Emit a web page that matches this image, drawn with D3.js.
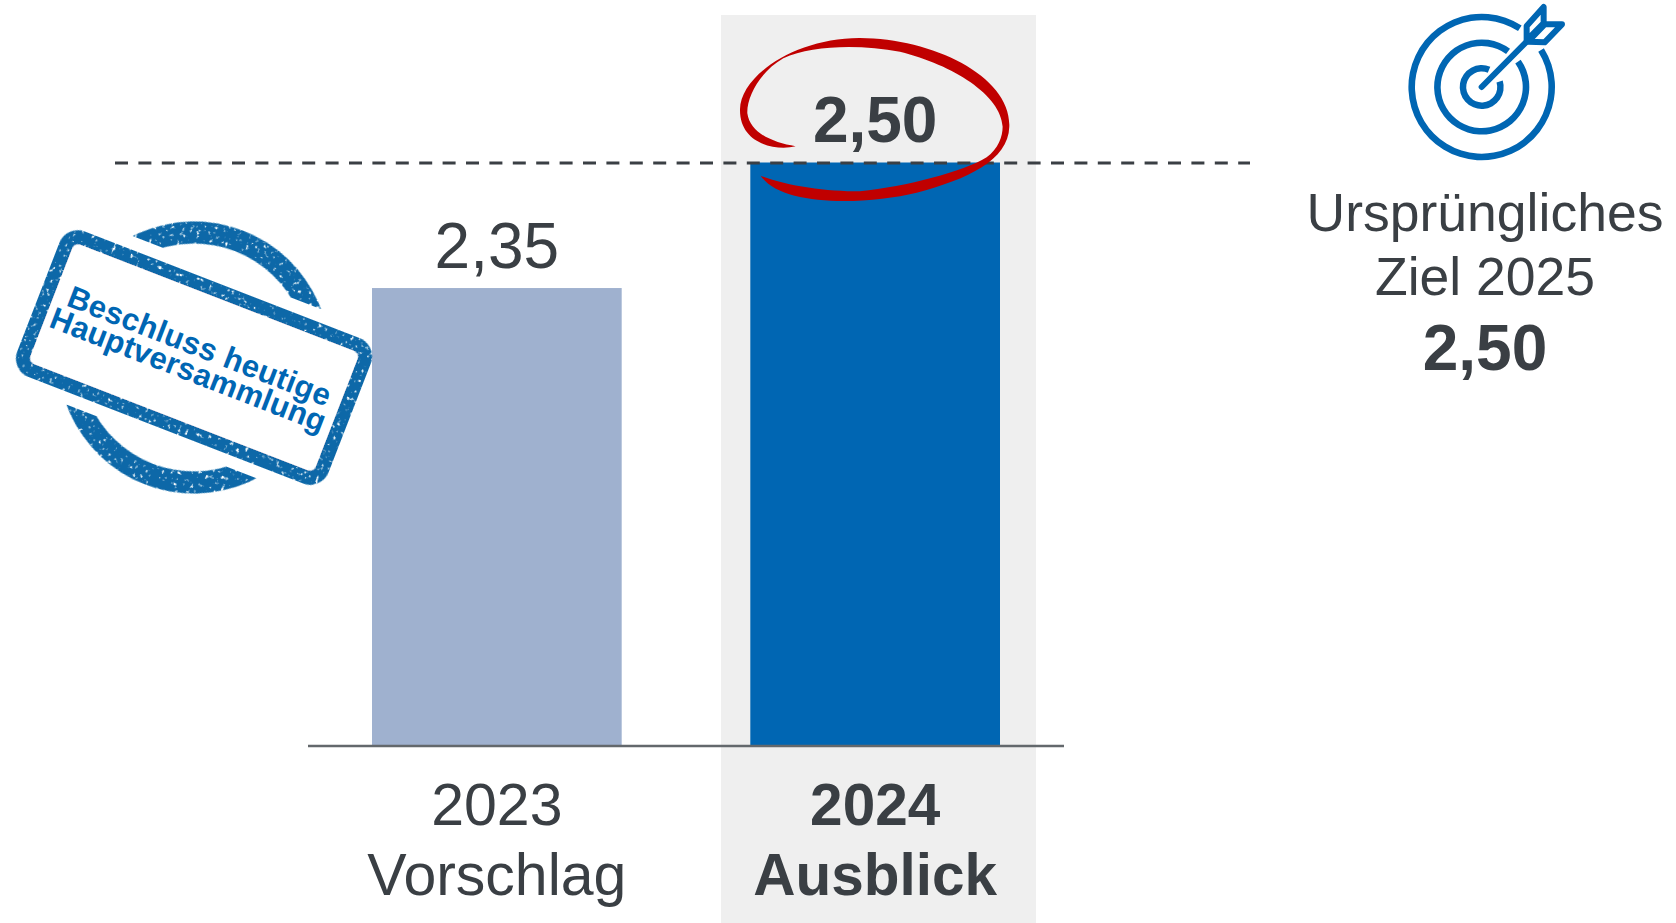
<!DOCTYPE html>
<html><head><meta charset="utf-8">
<script src="https://cdn.jsdelivr.net/npm/d3@7"></script>
<style>html,body{margin:0;padding:0;background:#fff}svg{display:block}text{font-family:"Liberation Sans",Arial,sans-serif}</style>
</head><body><svg id="c" width="1676" height="923"></svg>
<script>
const categories = ["2023", "2024"];
const subLabels = ["Vorschlag", "Ausblick"];
const values = [2.35, 2.50];
const valueLabels = ["2,35", "2,50"];
const barColors = ["#9fb1cf", "#0066b3"];
const target = 2.50;
const targetLines = ["Ursprüngliches", "Ziel 2025"];
const targetLabel = "2,50";
const stampLines = ["Beschluss heutige", "Hauptversammlung"];

const INK = "#3a3f44", BLUE = "#0066b3", RED = "#c00000", STAMP = "#0a68a8";
const svg = d3.select("#c");
const x = d3.scaleBand().domain(categories).range([372, 1000]).paddingInner(0.34);
const y = d3.scaleLinear().domain([1.804, 2.5]).range([745, 162.5]);

// highlight band
svg.append("rect").attr("x", 721).attr("y", 15).attr("width", 315).attr("height", 908).attr("fill", "#efefef");

// bars
svg.selectAll("rect.bar").data(categories).join("rect").attr("class", "bar")
  .attr("x", d => x(d)).attr("width", x.bandwidth())
  .attr("y", (d, i) => y(values[i])).attr("height", (d, i) => y.range()[0] - y(values[i]))
  .attr("fill", (d, i) => barColors[i]);

// value labels
svg.selectAll("text.val").data(categories).join("text").attr("class", "val")
  .attr("x", d => x(d) + x.bandwidth() / 2).attr("y", (d, i) => i ? 141.5 : 267.5)
  .attr("text-anchor", "middle").attr("font-size", 64)
  .attr("font-weight", (d, i) => i ? 700 : 400).attr("fill", INK)
  .text((d, i) => valueLabels[i]);

// axis
const ax = svg.append("g").attr("transform", "translate(0,745.5)").call(d3.axisBottom(x).tickSize(0).tickPadding(0));
ax.select(".domain").remove();
ax.selectAll(".tick text").each(function (d, i) {
  const t = d3.select(this).attr("y", null).attr("dy", null).text(null)
    .attr("font-size", i ? 58.5 : 59).attr("fill", INK).attr("font-weight", i ? 700 : 400).attr("font-family", null).attr("text-anchor", "middle");
  t.append("tspan").attr("x", 0).attr("y", 79).text(categories[i]);
  t.append("tspan").attr("x", 0).attr("y", 149).text(subLabels[i]);
});
svg.append("line").attr("x1", 308).attr("x2", 1064).attr("y1", 746).attr("y2", 746).attr("stroke", "#63686c").attr("stroke-width", 2.4);

// target dashed line
svg.append("line").attr("x1", 115).attr("x2", 1250).attr("y1", y(target)+0.5).attr("y2", y(target)+0.5)
  .attr("stroke", INK).attr("stroke-width", 3.2).attr("stroke-dasharray", "13 10.4");

// red hand-drawn ring
svg.append("path").attr("transform", "translate(700,10) scale(0.3333)").attr("fill", RED)
  .attr("d", "M287,409 C225,424 118,400 120,298 C122,195 290,83 480,84 C700,85 934,200 928,350 C925,452 800,508 650,548 C500,584 245,592 182,497 C260,528 380,544 480,544 C620,530 790,485 860,442 C895,415 908,380 908,350 C903,255 760,165 600,125 C480,103 335,105 250,145 C180,185 140,260 142,310 C150,370 220,398 287,409 Z");

// stamp
const defs = svg.append("defs");
const f = defs.append("filter").attr("id", "rough").attr("x", "-5%").attr("y", "-5%").attr("width", "110%").attr("height", "110%");
f.append("feTurbulence").attr("type", "fractalNoise").attr("baseFrequency", 0.26).attr("numOctaves", 2).attr("seed", 4).attr("result", "n");
f.append("feColorMatrix").attr("in", "n").attr("type", "matrix")
  .attr("values", "0 0 0 0 0  0 0 0 0 0  0 0 0 0 0  -7 0 0 0 5.4").attr("result", "m");
f.append("feComposite").attr("in", "SourceGraphic").attr("in2", "m").attr("operator", "in");
const clip = defs.append("clipPath").attr("id", "ringclip");
clip.append("rect").attr("x", -170).attr("y", -170).attr("width", 340).attr("height", 79);
clip.append("rect").attr("x", -170).attr("y", 90).attr("width", 340).attr("height", 80);

const stamp = svg.append("g").attr("transform", "translate(194,357.5) rotate(21.2)");
const rough = stamp.append("g").attr("filter", "url(#rough)");
rough.append("g").attr("clip-path", "url(#ringclip)").append("path")
  .attr("d", d3.arc()({ innerRadius: 114, outerRadius: 136, startAngle: 0, endAngle: 2 * Math.PI }))
  .attr("fill", STAMP);
rough.append("rect").attr("x", -160).attr("y", -71).attr("width", 320).attr("height", 142).attr("rx", 13)
  .attr("fill", "#fff").attr("stroke", STAMP).attr("stroke-width", 14);
stamp.selectAll("text").data(stampLines).join("text")
  .attr("x", (d, i) => i ? -1 : 1).attr("y", (d, i) => i ? 24 : -2).attr("text-anchor", "middle")
  .attr("font-size", 31).attr("font-weight", 700).attr("fill", BLUE)
  .attr("textLength", (d, i) => i ? 293 : 280).text(d => d);

// target icon
const icon = svg.append("g").attr("transform", "translate(1481.7,87)");
const deg = d => d * Math.PI / 180;
const rings = [[66.7, 73.3, 58, 393], [41, 47.6, 55, 396.5], [15.5, 22, 73, 383]];
icon.selectAll("path.r").data(rings).join("path").attr("class", "r").attr("fill", BLUE)
  .attr("d", d => d3.arc()({ innerRadius: d[0], outerRadius: d[1], startAngle: deg(d[2]), endAngle: deg(d[3]) }));
const arrow = svg.append("g").attr("transform", "translate(1380,1) scale(0.3333)")
  .attr("fill", "none").attr("stroke", BLUE).attr("stroke-width", 18).attr("stroke-linejoin", "round").attr("stroke-linecap", "round");
arrow.append("path").attr("d", "M305,258 L440,122");
arrow.append("path").attr("d", "M440,75 L491,18 L491,66 L440,118 Z");
arrow.append("path").attr("d", "M444,122 L494,70 L546,70 L494,124 Z");

// target text
svg.selectAll("text.t").data(targetLines).join("text").attr("class", "t")
  .attr("x", 1485).attr("y", (d, i) => 230.5 + i * 64).attr("text-anchor", "middle")
  .attr("font-size", 53.5).attr("fill", INK).text(d => d);
svg.append("text").attr("x", 1485).attr("y", 370).attr("text-anchor", "middle")
  .attr("font-size", 64).attr("font-weight", 700).attr("fill", INK).text(targetLabel);
</script></body></html>
